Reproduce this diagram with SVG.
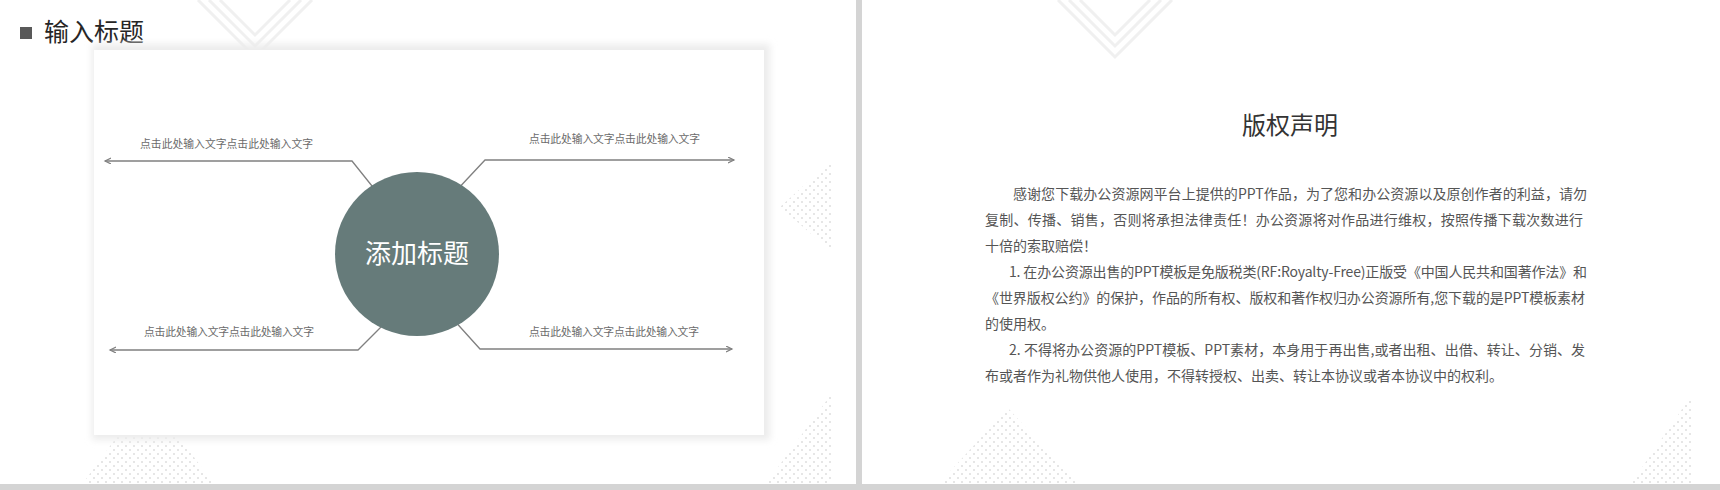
<svg xmlns="http://www.w3.org/2000/svg" width="1720" height="490" viewBox="0 0 1720 490">
<style>
.cjk{font-family:"Noto Sans CJK SC","Noto Sans",sans-serif}
.lbl{font-size:10.8px;fill:#6b6b6b}
.body{font-size:14px;fill:#555555}
.conn{fill:none;stroke:#808080;stroke-width:1.3}
.chev{fill:none;stroke:#f0f0f0;stroke-width:3}
.dots{fill:url(#dotpat)}
</style>
<defs>
<pattern id="dotpat" patternUnits="userSpaceOnUse" width="8" height="8">
<circle cx="2" cy="2" r="1.1" fill="#e0e0e0"/>
<circle cx="6" cy="6" r="1.1" fill="#e0e0e0"/>
</pattern>
<filter id="shadow" x="-5%" y="-5%" width="110%" height="110%">
<feGaussianBlur stdDeviation="3.5"/>
</filter>
<marker id="arr" markerWidth="8" markerHeight="8" refX="6" refY="3" orient="auto" markerUnits="userSpaceOnUse">
<path d="M0,0 L6,3 L0,6" fill="none" stroke="#808080" stroke-width="1.2"/>
</marker>
</defs>
<rect x="0" y="0" width="1720" height="490" fill="#ffffff"/>
<g id="background">
<polyline class="chev" points="198,0 255,57 312,0"/>
<polyline class="chev" points="209,0 255,46 301,0"/>
<polyline class="chev" points="220,0 255,35 290,0"/>
<polyline class="chev" points="1058,0 1115,57 1172,0"/>
<polyline class="chev" points="1069,0 1115,46 1161,0"/>
<polyline class="chev" points="1080,0 1115,35 1150,0"/>
<polygon class="dots" points="148,394 218,490 78,490"/>
<polygon class="dots" points="832,160 780,207 832,252"/>
<polygon class="dots" points="832,393 832,485 765,485"/>
<polygon class="dots" points="1008,408 1083,490 933,490"/>
<polygon class="dots" points="1693,393 1693,485 1630,485"/>
<rect x="856" y="0" width="6" height="490" fill="#d4d4d4"/>
<rect x="0" y="484" width="1720" height="6" fill="#d4d4d4"/>
</g>
<g id="header">
<rect x="20" y="27" width="12" height="12" fill="#595959"/>
<text class="cjk" x="44" y="41" font-size="25" fill="#262626">输入标题</text>
</g>
<g id="card">
<rect x="92" y="44" width="678" height="396" fill="#ececec" filter="url(#shadow)"/>
<rect x="94" y="50" width="670" height="385" fill="#ffffff"/>
</g>
<g id="connectors">
<path class="conn" d="M380,196 L352,161 L105,161" marker-end="url(#arr)"/>
<path class="conn" d="M455,192 L485,160 L734,160" marker-end="url(#arr)"/>
<path class="conn" d="M385,323 L358,350 L110,350" marker-end="url(#arr)"/>
<path class="conn" d="M452,318 L480,349 L732,349" marker-end="url(#arr)"/>
</g>
<g id="center">
<circle cx="417" cy="254" r="82" fill="#667b7a"/>
<text class="cjk" x="417" y="263" font-size="26" fill="#ffffff" text-anchor="middle">添加标题</text>
</g>
<g id="label-tl"><text class="cjk lbl" x="140" y="148" textLength="173" lengthAdjust="spacing">点击此处输入文字点击此处输入文字</text></g>
<g id="label-tr"><text class="cjk lbl" x="529" y="143" textLength="171" lengthAdjust="spacing">点击此处输入文字点击此处输入文字</text></g>
<g id="label-bl"><text class="cjk lbl" x="144" y="336" textLength="170" lengthAdjust="spacing">点击此处输入文字点击此处输入文字</text></g>
<g id="label-br"><text class="cjk lbl" x="529" y="336" textLength="170" lengthAdjust="spacing">点击此处输入文字点击此处输入文字</text></g>
<g id="copyright">
<text class="cjk" x="1290" y="134" font-size="24" fill="#333333" text-anchor="middle">版权声明</text>
<text class="cjk body" x="1013" y="199" textLength="574" lengthAdjust="spacing">感谢您下载办公资源网平台上提供的PPT作品，为了您和办公资源以及原创作者的利益，请勿</text>
<text class="cjk body" x="985" y="225" textLength="598" lengthAdjust="spacing">复制、传播、销售，否则将承担法律责任！办公资源将对作品进行维权，按照传播下载次数进行</text>
<text class="cjk body" x="985" y="251">十倍的索取赔偿！</text>
<text class="cjk body" x="1009" y="277" textLength="578" lengthAdjust="spacing">1. 在办公资源出售的PPT模板是免版税类(RF:Royalty-Free)正版受《中国人民共和国著作法》和</text>
<text class="cjk body" x="985" y="303" textLength="600" lengthAdjust="spacing">《世界版权公约》的保护，作品的所有权、版权和著作权归办公资源所有,您下载的是PPT模板素材</text>
<text class="cjk body" x="985" y="329">的使用权。</text>
<text class="cjk body" x="1009" y="355" textLength="576" lengthAdjust="spacing">2. 不得将办公资源的PPT模板、PPT素材，本身用于再出售,或者出租、出借、转让、分销、发</text>
<text class="cjk body" x="985" y="381">布或者作为礼物供他人使用，不得转授权、出卖、转让本协议或者本协议中的权利。</text>
</g>
</svg>
